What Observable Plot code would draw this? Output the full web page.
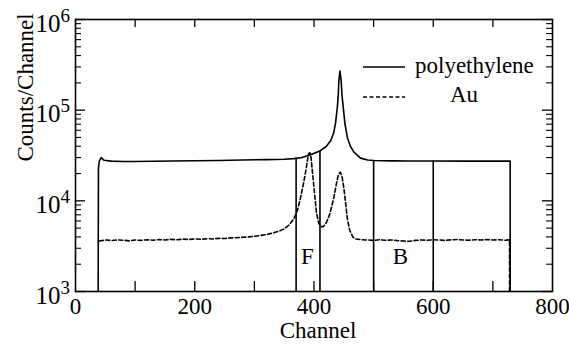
<!DOCTYPE html>
<html>
<head>
<meta charset="utf-8">
<script src="https://cdn.jsdelivr.net/npm/d3@7"></script>
<script src="https://cdn.jsdelivr.net/npm/@observablehq/plot@0.6"></script>
<style>
  html, body { margin: 0; padding: 0; background: #fff; }
  #chart { width: 569px; height: 345px; }
  #chart svg, #chart svg text { font-family: "Liberation Serif", "DejaVu Serif", "Times New Roman", serif !important; }
</style>
</head>
<body>
<div id="chart"></div>
<script>
// ---- data ----
const peChannel = [38, 38.5, 40, 43, 48, 60, 80, 100, 130, 160, 200, 240, 280, 320, 350, 366, 380, 395, 410, 420, 428, 433, 436, 439, 440.5, 441.7, 443.5, 445.6, 447, 449, 452, 456, 461, 467, 478, 490, 500, 530, 560, 600, 650, 700, 729, 729];
const peCounts  = [1000, 2.3e4, 2.75e4, 3.0e4, 2.8e4, 2.74e4, 2.72e4, 2.72e4, 2.73e4, 2.75e4, 2.77e4, 2.79e4, 2.82e4, 2.85e4, 2.88e4, 2.92e4, 3.0e4, 3.25e4, 3.55e4, 3.95e4, 4.6e4, 5.6e4, 7.1e4, 1.05e5, 1.4e5, 2.1e5, 2.7e5, 2.1e5, 1.45e5, 1.08e5, 7.0e4, 5.0e4, 4.0e4, 3.44e4, 2.96e4, 2.82e4, 2.78e4, 2.76e4, 2.75e4, 2.75e4, 2.74e4, 2.74e4, 2.74e4, 1000];

const auChannel = [40, 50, 60, 70, 80, 90, 100, 110, 120, 130, 140, 150, 160, 170, 180, 190, 200, 210, 220, 230, 240, 250, 260, 270, 280, 290, 300, 310, 320, 330, 340, 350, 358, 366, 372, 377, 382, 386, 389, 391, 393, 395, 398, 401, 404, 408, 412, 416, 421, 426, 430, 434, 438, 441, 444, 447, 450, 453, 456, 460, 465, 470, 480, 490, 500, 510, 520, 530, 540, 550, 560, 570, 580, 590, 600, 610, 620, 630, 640, 650, 660, 670, 680, 690, 700, 710, 720, 728, 728];
const auCounts  = [3.6e3, 3.7e3, 3.65e3, 3.7e3, 3.68e3, 3.62e3, 3.7e3, 3.66e3, 3.72e3, 3.68e3, 3.74e3, 3.7e3, 3.76e3, 3.72e3, 3.78e3, 3.75e3, 3.8e3, 3.76e3, 3.82e3, 3.8e3, 3.86e3, 3.84e3, 3.9e3, 3.92e3, 3.96e3, 4.0e3, 4.06e3, 4.15e3, 4.25e3, 4.4e3, 4.6e3, 4.9e3, 5.4e3, 6.3e3, 7.8e3, 1.05e4, 1.5e4, 2.1e4, 2.8e4, 3.3e4, 3.4e4, 3.0e4, 1.9e4, 1.2e4, 7.5e3, 5.6e3, 5.2e3, 5.2e3, 5.8e3, 7.0e3, 8.8e3, 1.15e4, 1.6e4, 1.95e4, 2.07e4, 1.85e4, 1.4e4, 9.5e3, 6.3e3, 4.7e3, 4.0e3, 3.8e3, 3.72e3, 3.7e3, 3.66e3, 3.72e3, 3.68e3, 3.7e3, 3.64e3, 3.6e3, 3.58e3, 3.66e3, 3.7e3, 3.68e3, 3.72e3, 3.7e3, 3.66e3, 3.72e3, 3.74e3, 3.7e3, 3.68e3, 3.72e3, 3.7e3, 3.74e3, 3.7e3, 3.72e3, 3.68e3, 3.72e3, 1000];

// analysis windows (F = 370–410, B = 500–600); top = polyethylene level there
const windowChannel = [370, 410, 500, 600];
const windowTop     = [2.95e4, 3.55e4, 2.78e4, 2.75e4];
const regionLabel   = ["F", "B"];
const regionChannel = [389, 545];
const regionCounts  = [2.43e3, 2.43e3];

const xTickLabels = [0, 200, 400, 600, 800];
const xTickMarks  = [100, 200, 300, 400, 500, 600, 700];
const yDecades    = [1e3, 1e4, 1e5, 1e6];
const yMinor      = [2e3,3e3,4e3,5e3,6e3,7e3,8e3,9e3,2e4,3e4,4e4,5e4,6e4,7e4,8e4,9e4,2e5,3e5,4e5,5e5,6e5,7e5,8e5,9e5];
const seriesNames = ["polyethylene", "Au"];

// ---- build tables ----
const pe = peChannel.map((c, i) => ({channel: c, counts: peCounts[i]}));
const au = auChannel.map((c, i) => ({channel: c, counts: auCounts[i]}));
const windows = windowChannel.map((c, i) => ({channel: c, top: windowTop[i]}));
const regions = regionLabel.map((l, i) => ({label: l, channel: regionChannel[i], counts: regionCounts[i]}));

const W = 569, H = 345, ML = 75, MR = 17, MT = 19, MB = 54;
const PW = W - ML - MR, PH = H - MT - MB;
const serif = "Liberation Serif, DejaVu Serif, Times New Roman, serif";

const chart = Plot.plot({
  width: W, height: H,
  marginLeft: ML, marginRight: MR, marginTop: MT, marginBottom: MB,
  style: {fontFamily: serif, fontSize: "23px", background: "#fff", color: "#000", overflow: "visible"},
  x: {domain: [0, 800], axis: null},
  y: {type: "log", domain: [1e3, 1e6], axis: null},
  marks: [
    // inward ticks
    Plot.tickX(xTickMarks, {x: d => d, insetTop: PH - 10, stroke: "#000", strokeWidth: 1.3}),
    Plot.tickX(xTickMarks, {x: d => d, insetBottom: PH - 8, stroke: "#000", strokeWidth: 1.3}),
    Plot.tickY(yDecades, {y: d => d, insetRight: PW - 10, stroke: "#000", strokeWidth: 1.3}),
    Plot.tickY(yMinor, {y: d => d, insetRight: PW - 6, stroke: "#000", strokeWidth: 1.1}),
    Plot.tickY(yDecades, {y: d => d, insetLeft: PW - 10, stroke: "#000", strokeWidth: 1.3}),
    Plot.tickY(yMinor, {y: d => d, insetLeft: PW - 6, stroke: "#000", strokeWidth: 1.1}),
    // window lines
    Plot.ruleX(windows, {x: "channel", y1: 1e3, y2: "top", stroke: "#000", strokeWidth: 1.6}),
    // series
    Plot.line(au, {x: "channel", y: "counts", stroke: "#000", strokeWidth: 1.6, strokeDasharray: "4,2.5"}),
    Plot.line(pe, {x: "channel", y: "counts", stroke: "#000", strokeWidth: 1.6}),
    // region labels
    Plot.text(regions, {x: "channel", y: "counts", text: "label", fontSize: 23, lineAnchor: "middle"}),
    // x tick labels
    Plot.text(xTickLabels, {x: d => d, frameAnchor: "bottom", lineAnchor: "top", dy: 6, fontSize: 23, text: d => String(d)}),
    // y tick labels: 10 with exponent
    Plot.text(yDecades, {y: d => d, frameAnchor: "left", text: () => "10", textAnchor: "end", lineAnchor: "middle", dx: -15, dy: 4, fontSize: 25}),
    Plot.text(yDecades, {y: d => d, frameAnchor: "left", text: d => String(Math.round(Math.log10(d))), textAnchor: "start", lineAnchor: "middle", dx: -15, dy: -4, fontSize: 19}),
    // axis labels
    Plot.text(["Channel"], {frameAnchor: "bottom", lineAnchor: "bottom", dx: 4, dy: 46, fontSize: 23}),
    Plot.text(["Counts/Channel"], {frameAnchor: "left", rotate: -90, lineAnchor: "bottom", dx: -43, dy: 6, fontSize: 23}),
    Plot.frame({stroke: "#000", strokeWidth: 1.6})
  ]
});

// in-plot legend
const svg = d3.select(chart);
const lg = svg.append("g").attr("font-family", serif).attr("font-size", 23).attr("fill", "#000").attr("text-anchor", "start");
const legendRows = [
  {name: seriesNames[0], dash: null, lineY: 67, textX: 415, baseY: 73},
  {name: seriesNames[1], dash: "4,2.5", lineY: 97, textX: 450, baseY: 102}
];
legendRows.forEach(r => {
  lg.append("line").attr("x1", 363).attr("x2", 405).attr("y1", r.lineY).attr("y2", r.lineY)
    .attr("stroke", "#000").attr("stroke-width", 1.6).attr("stroke-dasharray", r.dash);
  lg.append("text").attr("x", r.textX).attr("y", r.baseY).attr("text-anchor", "start").text(r.name);
});

document.getElementById("chart").appendChild(chart);
</script>
</body>
</html>
